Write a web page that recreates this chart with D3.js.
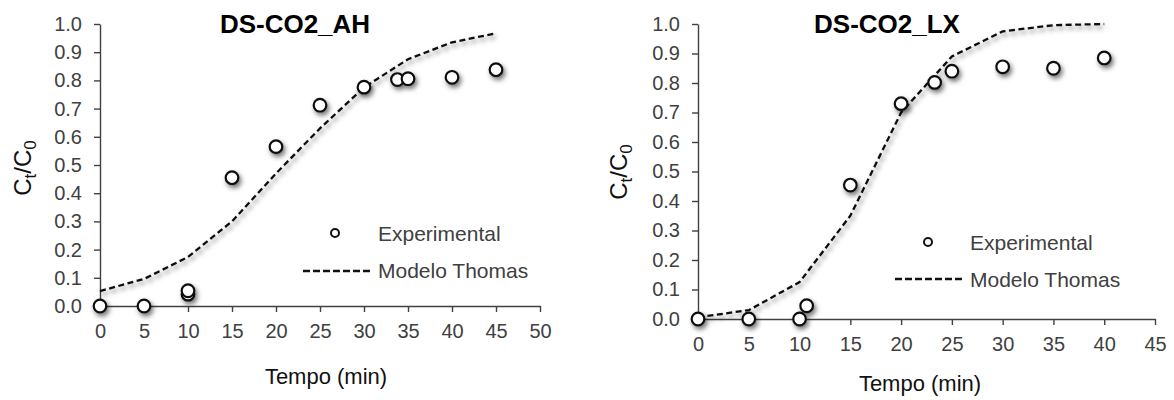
<!DOCTYPE html>
<html>
<head>
<meta charset="utf-8">
<script src="https://cdn.jsdelivr.net/npm/d3@7"></script>
<style>
  html, body { margin: 0; padding: 0; background: #fff; }
  svg { display: block; font-family: "Liberation Sans", Arial, sans-serif; }
</style>
</head>
<body>
<svg id="chart" width="1174" height="400"></svg>
<script>
// Breakthrough curves: DS-CO2_AH
const ahTitle = "DS-CO2_AH";
const ahExpTime = [0, 5, 10, 10, 15, 20, 25, 30, 33.8, 35, 40, 45];
const ahExpRatio = [0, 0, 0.042, 0.054, 0.455, 0.565, 0.712, 0.776, 0.803, 0.806, 0.811, 0.838];
const ahModelTime = [0, 5, 10, 15, 20, 25, 30, 35, 40, 45];
const ahModelRatio = [0.053, 0.096, 0.174, 0.30, 0.47, 0.63, 0.775, 0.875, 0.935, 0.967];
const ahXTicks = [0, 5, 10, 15, 20, 25, 30, 35, 40, 45, 50];

// Breakthrough curves: DS-CO2_LX
const lxTitle = "DS-CO2_LX";
const lxExpTime = [0, 5, 10, 10.7, 15, 20, 23.3, 25, 30, 35, 40];
const lxExpRatio = [0, 0, 0, 0.045, 0.454, 0.73, 0.802, 0.84, 0.855, 0.85, 0.885];
const lxModelTime = [0, 5, 10, 15, 20, 25, 30, 35, 40];
const lxModelRatio = [0.006, 0.03, 0.125, 0.35, 0.70, 0.89, 0.975, 0.996, 1.0];
const lxXTicks = [0, 5, 10, 15, 20, 25, 30, 35, 40, 45];

const yTicks = [0, 0.1, 0.2, 0.3, 0.4, 0.5, 0.6, 0.7, 0.8, 0.9, 1.0];
const legendLabels = ["Experimental", "Modelo Thomas"];
const xTitle = "Tempo (min)";

const svg = d3.select("#chart");

// soft drop shadow used under the plotted marks
const defs = svg.append("defs");
const shadow = defs.append("filter").attr("id", "shadow")
  .attr("x", "-50%").attr("y", "-50%").attr("width", "200%").attr("height", "200%");
shadow.append("feDropShadow")
  .attr("dx", 2).attr("dy", 3).attr("stdDeviation", 2.6)
  .attr("flood-color", "#000").attr("flood-opacity", 0.55);

const panels = [
  {
    title: ahTitle, expT: ahExpTime, expY: ahExpRatio, modT: ahModelTime, modY: ahModelRatio,
    xDomain: [0, 50], xTicks: ahXTicks,
    x0: 100, x1: 540, y0: 306, y1: 24,
    titleX: 295, titleY: 33,
    xTitleX: 326, xTitleY: 384,
    yTitleX: 31, yTitleY: 168,
    legend: { markX: 335, markY: 233, textX: 378, text1Y: 241, lineX0: 303, lineX1: 371, lineY: 271, text2Y: 278 }
  },
  {
    title: lxTitle, expT: lxExpTime, expY: lxExpRatio, modT: lxModelTime, modY: lxModelRatio,
    xDomain: [0, 45], xTicks: lxXTicks,
    x0: 698, x1: 1155, y0: 319, y1: 24,
    titleX: 887, titleY: 33,
    xTitleX: 920, xTitleY: 391,
    yTitleX: 627, yTitleY: 172,
    legend: { markX: 928, markY: 242, textX: 970, text1Y: 250, lineX0: 895, lineX1: 962, lineY: 279, text2Y: 287 }
  }
];

const axisColor = "#404040";

panels.forEach(p => {
  const x = d3.scaleLinear().domain(p.xDomain).range([p.x0, p.x1]);
  const y = d3.scaleLinear().domain([0, 1]).range([p.y0, p.y1]);
  const g = svg.append("g");

  // axes
  const xAxis = g.append("g")
    .attr("transform", `translate(0,${p.y0})`)
    .call(d3.axisBottom(x).tickValues(p.xTicks).tickFormat(d3.format("d"))
      .tickSize(6).tickSizeOuter(0).tickPadding(12));
  const yAxis = g.append("g")
    .attr("transform", `translate(${p.x0},0)`)
    .call(d3.axisLeft(y).tickValues(yTicks).tickFormat(d3.format(".1f"))
      .tickSize(6).tickSizeOuter(0).tickPadding(12));
  [xAxis, yAxis].forEach(a => {
    a.select(".domain").attr("stroke", axisColor).attr("stroke-width", 1.4);
    a.selectAll(".tick line").attr("stroke", axisColor).attr("stroke-width", 1.4);
    a.selectAll(".tick text").attr("fill", axisColor)
      .style("font-size", "20px").style("font-family", "'Liberation Sans', Arial, sans-serif");
  });

  // Thomas model curve
  const line = d3.line().x(d => x(d[0])).y(d => y(d[1]));
  g.append("path")
    .datum(d3.zip(p.modT, p.modY))
    .attr("d", line)
    .attr("fill", "none")
    .attr("stroke", "#111")
    .attr("stroke-width", 2.3)
    .attr("stroke-dasharray", "6,3.5")
    .attr("filter", "url(#shadow)");

  // experimental points
  g.append("g").attr("filter", "url(#shadow)")
    .selectAll("circle")
    .data(d3.zip(p.expT, p.expY))
    .join("circle")
    .attr("cx", d => x(d[0]))
    .attr("cy", d => y(d[1]))
    .attr("r", 6.3)
    .attr("fill", "#fff")
    .attr("stroke", "#111")
    .attr("stroke-width", 2.2);

  // chart title
  g.append("text")
    .attr("x", p.titleX).attr("y", p.titleY)
    .attr("text-anchor", "middle")
    .attr("font-weight", "bold")
    .attr("font-size", 26)
    .attr("fill", "#000")
    .text(p.title);

  // x axis title
  g.append("text")
    .attr("x", p.xTitleX).attr("y", p.xTitleY)
    .attr("text-anchor", "middle")
    .attr("font-size", 22)
    .attr("fill", "#111")
    .text(xTitle);

  // y axis title: Ct/C0 with subscripts
  const yt = g.append("text")
    .attr("transform", `translate(${p.yTitleX},${p.yTitleY}) rotate(-90)`)
    .attr("text-anchor", "middle")
    .attr("font-size", 24)
    .attr("fill", "#111");
  yt.append("tspan").text("C");
  yt.append("tspan").attr("font-size", 17).attr("dy", 5).text("t");
  yt.append("tspan").attr("dy", -5).text("/C");
  yt.append("tspan").attr("font-size", 17).attr("dy", 5).text("0");

  // legend
  const L = p.legend;
  g.append("circle")
    .attr("cx", L.markX).attr("cy", L.markY).attr("r", 4)
    .attr("fill", "#fff").attr("stroke", "#111").attr("stroke-width", 2);
  g.append("text")
    .attr("x", L.textX).attr("y", L.text1Y)
    .attr("font-size", 21).attr("fill", axisColor)
    .text(legendLabels[0]);
  g.append("line")
    .attr("x1", L.lineX0).attr("x2", L.lineX1)
    .attr("y1", L.lineY).attr("y2", L.lineY)
    .attr("stroke", "#111").attr("stroke-width", 2.3)
    .attr("stroke-dasharray", "7,3");
  g.append("text")
    .attr("x", L.textX).attr("y", L.text2Y)
    .attr("font-size", 21).attr("fill", axisColor)
    .text(legendLabels[1]);
});
</script>
</body>
</html>
